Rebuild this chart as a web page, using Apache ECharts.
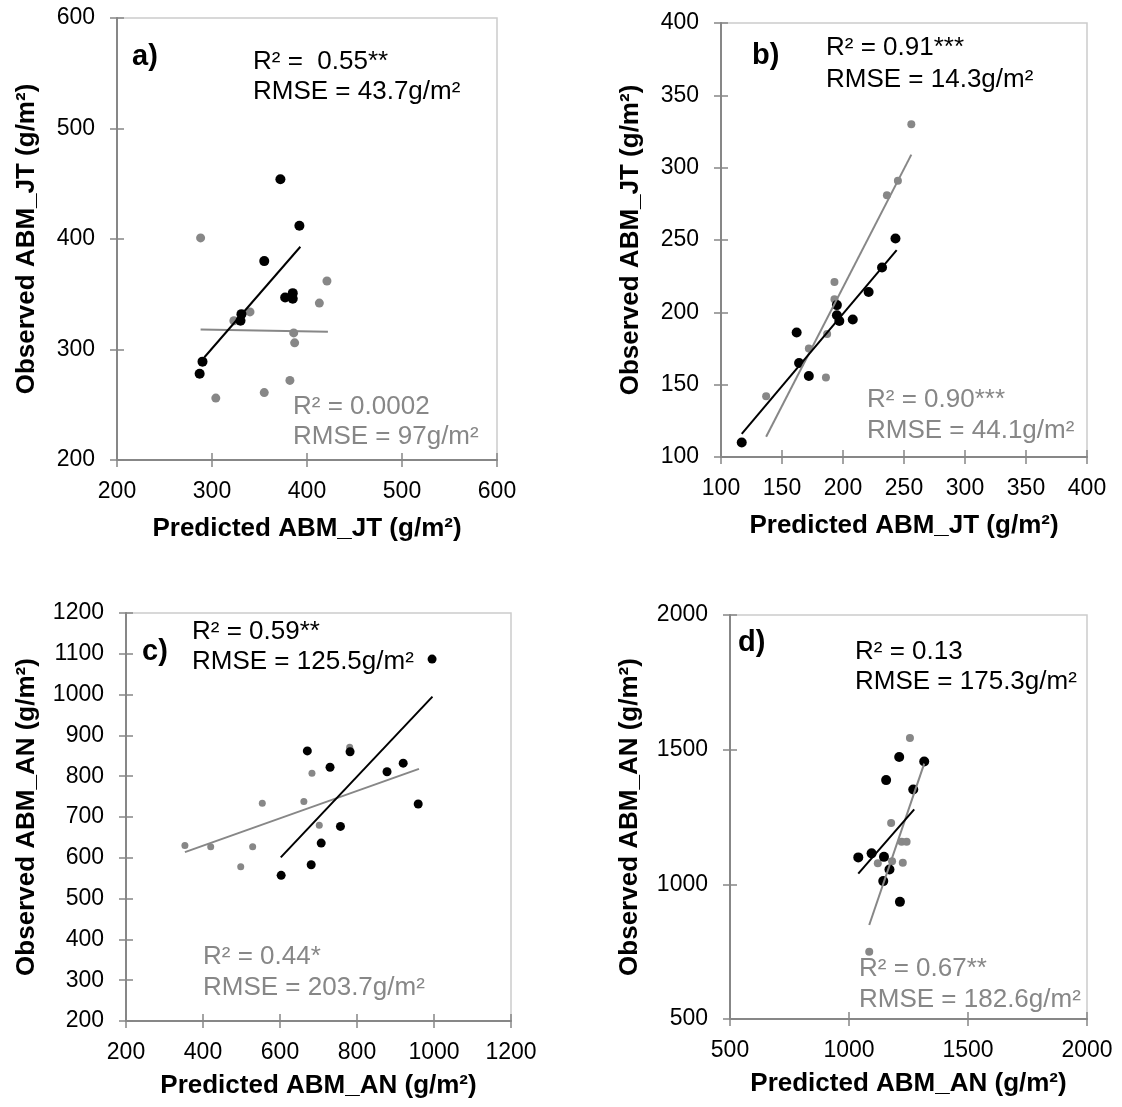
<!DOCTYPE html>
<html><head><meta charset="utf-8">
<script src="https://cdn.jsdelivr.net/npm/echarts@6/dist/echarts.min.js"></script>
<style>html,body{margin:0;padding:0;background:#fff}#c{width:1122px;height:1107px}</style>
</head><body><div id="c"></div>
<script>
// ---------- DATA (predicted, observed) ----------
const aBlack = [[372,454],[392,412],[355,380],[377,347],[385,351],[385,346],[331,332],[330,326],[290,289],[287,278]];
const aGray  = [[288,401],[421,362],[413,342],[340,334],[323,326],[386,315],[387,306],[382,272],[355,261],[304,256]];
const aTrendBlack = [[292,293],[393,393]];
const aTrendGray  = [[288,318],[422,316]];

const bBlack = [[117,110],[162,186],[164,165],[172,156],[195,205],[195,198],[197,194],[208,195],[221,214],[232,231],[243,251]];
const bGray  = [[137,142],[172,175],[187,185],[186,155],[193,209],[193,221],[236,281],[245,291],[256,330]];
const bTrendBlack = [[117,116],[244,243]];
const bTrendGray  = [[137,114],[256,309]];

const cBlack = [[995,1087],[671,862],[782,860],[730,822],[878,811],[920,832],[959,732],[757,677],[707,636],[681,583],[603,557]];
const cGray  = [[781,871],[683,807],[554,734],[662,738],[702,680],[353,630],[420,627],[529,627],[498,578]];
const cTrendBlack = [[602,601],[996,995]];
const cTrendGray  = [[353,614],[961,818]];

const dBlack = [[1039,1100],[1095,1115],[1147,1102],[1156,1387],[1211,1473],[1270,1352],[1316,1456],[1170,1055],[1144,1012],[1214,935]];
const dGray  = [[1256,1543],[1177,1228],[1221,1158],[1242,1158],[1121,1078],[1181,1086],[1226,1080],[1085,750]];
const dTrendBlack = [[1039,1040],[1274,1278]];
const dTrendGray  = [[1085,849],[1316,1448]];

// axis ranges [min, max, interval]
const aXRange = [200, 600, 100], aYRange = [200, 600, 100];
const bXRange = [100, 400, 50],  bYRange = [100, 400, 50];
const cXRange = [200, 1200, 200], cYRange = [200, 1200, 100];
const dXRange = [500, 2000, 500], dYRange = [500, 2000, 500];

const xNames = ['Predicted ABM_JT (g/m²)','Predicted ABM_JT (g/m²)','Predicted ABM_AN (g/m²)','Predicted ABM_AN (g/m²)'];
const yNames = ['Observed ABM_JT (g/m²)','Observed ABM_JT (g/m²)','Observed ABM_AN (g/m²)','Observed ABM_AN (g/m²)'];
const panelLabels = ['a)','b)','c)','d)'];
const blackStats = [['R² =  0.55**','RMSE = 43.7g/m²'],['R² = 0.91***','RMSE = 14.3g/m²'],['R² = 0.59**','RMSE = 125.5g/m²'],['R² = 0.13','RMSE = 175.3g/m²']];
const grayStats  = [['R² = 0.0002','RMSE = 97g/m²'],['R² = 0.90***','RMSE = 44.1g/m²'],['R² = 0.44*','RMSE = 203.7g/m²'],['R² = 0.67**','RMSE = 182.6g/m²']];

// ---------- LAYOUT ----------
const FONT = '"Liberation Sans", Arial, sans-serif';
const AXIS_COLOR = '#878787';
const GRAY = '#878787';
const grids = [
  {left:117, top:18,  width:380, height:442},
  {left:721, top:23,  width:366, height:434},
  {left:126, top:613, width:385, height:408},
  {left:730, top:615, width:357, height:404}
];
const xGaps = [56, 56, 52, 52];
const yGaps = [77, 77, 86, 87];
const labelPos = [[132,57],[752,56],[142,652],[738,643]];
const blackPos = [[253,62,92],[826,48,80],[192,632,662],[855,652,682]];
const grayPos  = [[293,407,437],[867,400,431],[203,957,988],[859,969,1000]];

const xRanges = [aXRange,bXRange,cXRange,dXRange];
const yRanges = [aYRange,bYRange,cYRange,dYRange];
const blacks = [aBlack,bBlack,cBlack,dBlack];
const grays = [aGray,bGray,cGray,dGray];
const tBlacks = [aTrendBlack,bTrendBlack,cTrendBlack,dTrendBlack];
const tGrays = [aTrendGray,bTrendGray,cTrendGray,dTrendGray];
const blackSize = [10,10,9,10];
const graySize = [9,8,7,8];

const grid = [], xAxis = [], yAxis = [], series = [], graphic = [];
const plain = v => String(v);
for (let i = 0; i < 4; i++) {
  grid.push(Object.assign({show:true, borderColor:'#cccccc', borderWidth:1.5, backgroundColor:'#fff'}, grids[i]));
  const xr = xRanges[i], yr = yRanges[i];
  xAxis.push({
    type:'value', gridIndex:i, position:'bottom', min:xr[0], max:xr[1], interval:xr[2],
    axisLine:{show:true, onZero:false, lineStyle:{color:AXIS_COLOR, width:2}},
    axisTick:{show:true, inside:false, length:7, lineStyle:{color:AXIS_COLOR, width:1.5}},
    axisLabel:{color:'#000', fontSize:23, fontFamily:FONT, margin:20, formatter:plain},
    splitLine:{show:false},
    name:xNames[i], nameLocation:'middle', nameGap:xGaps[i],
    nameTextStyle:{color:'#000', fontSize:26, fontWeight:'bold', fontFamily:FONT}
  });
  xAxis.push({
    type:'value', gridIndex:i, position:'bottom', min:xr[0], max:xr[1], interval:xr[2],
    axisLine:{show:false}, axisLabel:{show:false}, splitLine:{show:false},
    axisTick:{show:true, inside:true, length:7, lineStyle:{color:AXIS_COLOR, width:1.5}}
  });
  yAxis.push({
    type:'value', gridIndex:i, position:'left', min:yr[0], max:yr[1], interval:yr[2],
    axisLine:{show:true, onZero:false, lineStyle:{color:AXIS_COLOR, width:2}},
    axisTick:{show:true, inside:false, length:7, lineStyle:{color:AXIS_COLOR, width:1.5}},
    axisLabel:{color:'#000', fontSize:23, fontFamily:FONT, margin:22, formatter:plain},
    splitLine:{show:false},
    name:yNames[i], nameLocation:'middle', nameGap:yGaps[i], nameRotate:90,
    nameTextStyle:{color:'#000', fontSize:26, fontWeight:'bold', fontFamily:FONT}
  });
  yAxis.push({
    type:'value', gridIndex:i, position:'left', min:yr[0], max:yr[1], interval:yr[2],
    axisLine:{show:false}, axisLabel:{show:false}, splitLine:{show:false},
    axisTick:{show:true, inside:true, length:7, lineStyle:{color:AXIS_COLOR, width:1.5}}
  });
  const xi = 2*i, yi = 2*i;
  series.push({type:'scatter', xAxisIndex:xi, yAxisIndex:yi, data:grays[i], symbolSize:graySize[i], itemStyle:{color:GRAY, opacity:1}, z:2, silent:true});
  series.push({type:'scatter', xAxisIndex:xi, yAxisIndex:yi, data:blacks[i], symbolSize:blackSize[i], itemStyle:{color:'#000', opacity:1}, z:3, silent:true});
  series.push({type:'line', xAxisIndex:xi, yAxisIndex:yi, data:tGrays[i], symbol:'none', lineStyle:{color:GRAY, width:2}, z:4, silent:true});
  series.push({type:'line', xAxisIndex:xi, yAxisIndex:yi, data:tBlacks[i], symbol:'none', lineStyle:{color:'#000', width:2}, z:5, silent:true});

  graphic.push({type:'text', x:labelPos[i][0], y:labelPos[i][1], z:10,
    style:{text:panelLabels[i], font:'bold 29px '+FONT, fill:'#000', align:'left', verticalAlign:'middle'}});
  graphic.push({type:'text', x:blackPos[i][0], y:blackPos[i][1], z:10,
    style:{text:blackStats[i][0], font:'26px '+FONT, fill:'#000', align:'left', verticalAlign:'middle'}});
  graphic.push({type:'text', x:blackPos[i][0], y:blackPos[i][2], z:10,
    style:{text:blackStats[i][1], font:'26px '+FONT, fill:'#000', align:'left', verticalAlign:'middle'}});
  graphic.push({type:'text', x:grayPos[i][0], y:grayPos[i][1], z:10,
    style:{text:grayStats[i][0], font:'26px '+FONT, fill:GRAY, align:'left', verticalAlign:'middle'}});
  graphic.push({type:'text', x:grayPos[i][0], y:grayPos[i][2], z:10,
    style:{text:grayStats[i][1], font:'26px '+FONT, fill:GRAY, align:'left', verticalAlign:'middle'}});
}

const chart = echarts.init(document.getElementById('c'), null, {renderer:'canvas'});
chart.setOption({animation:false, backgroundColor:'#fff', grid, xAxis, yAxis, series, graphic});
</script>
</body></html>
